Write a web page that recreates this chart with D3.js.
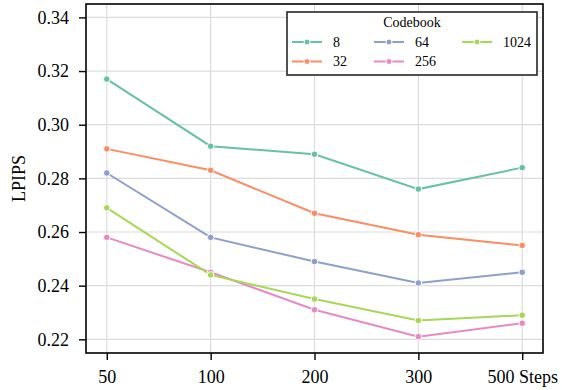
<!DOCTYPE html>
<html>
<head>
<meta charset="utf-8">
<script src="https://cdn.jsdelivr.net/npm/d3@7"></script>
<style>
html,body{margin:0;padding:0;background:#fff;}
svg{display:block;}
text{font-family:"Liberation Serif","Times New Roman",serif;fill:#000;}
</style>
</head>
<body>
<svg id="chart" width="562" height="390"></svg>
<script>
const steps = ["50", "100", "200", "300", "500 Steps"];
const seriesNames = ["8", "32", "64", "256", "1024"];
const values8    = [0.317, 0.292, 0.289, 0.276, 0.284];
const values32   = [0.291, 0.283, 0.267, 0.259, 0.255];
const values64   = [0.282, 0.258, 0.249, 0.241, 0.245];
const values256  = [0.258, 0.245, 0.231, 0.221, 0.226];
const values1024 = [0.269, 0.244, 0.235, 0.227, 0.229];
const colors = ["#66c2a5", "#fc8d62", "#8da0cb", "#e78ac3", "#a6d854"];
const yTicks = [0.22, 0.24, 0.26, 0.28, 0.30, 0.32, 0.34];
const legendTitle = "Codebook";
const yLabel = "LPIPS";

const series = [values8, values32, values64, values256, values1024].map((v, i) => ({
  name: seriesNames[i], color: colors[i], values: v
}));

const svg = d3.select("#chart");
const L = 86, R = 543, T = 4, B = 353;

const x = d3.scalePoint().domain(steps).range([L, R]).padding(0.2);
const y = d3.scaleLinear().domain([0.2149, 0.3450]).range([B, T]);

// grid
const g = svg.append("g");
g.selectAll("line.gy").data(yTicks).join("line")
  .attr("x1", L).attr("x2", R)
  .attr("y1", d => y(d)).attr("y2", d => y(d))
  .attr("stroke", "#dcdcdc").attr("stroke-width", 1.2);
g.selectAll("line.gx").data(steps).join("line")
  .attr("y1", T).attr("y2", B)
  .attr("x1", d => x(d)).attr("x2", d => x(d))
  .attr("stroke", "#dcdcdc").attr("stroke-width", 1.2);

// lines
const line = d3.line().x((d, i) => x(steps[i])).y(d => y(d));
series.forEach(s => {
  svg.append("path").datum(s.values)
    .attr("d", line).attr("fill", "none")
    .attr("stroke", s.color).attr("stroke-width", 2);
});
series.forEach(s => {
  svg.append("g").selectAll("circle").data(s.values).join("circle")
    .attr("cx", (d, i) => x(steps[i])).attr("cy", d => y(d))
    .attr("r", 3.3).attr("fill", s.color)
    .attr("stroke", "#fff").attr("stroke-width", 1);
});

// frame
svg.append("rect").attr("x", L).attr("y", T).attr("width", R - L).attr("height", B - T)
  .attr("fill", "none").attr("stroke", "#000").attr("stroke-width", 1.6);

// axes
const yAxis = svg.append("g").attr("transform", `translate(${L},0)`)
  .call(d3.axisLeft(y).tickValues(yTicks).tickFormat(d3.format(".2f")).tickSize(7).tickPadding(10));
const xAxis = svg.append("g").attr("transform", `translate(0,${B})`)
  .call(d3.axisBottom(x).tickSize(7).tickPadding(10));
[yAxis, xAxis].forEach(a => {
  a.select(".domain").remove();
  a.selectAll(".tick line").attr("stroke", "#000").attr("stroke-width", 1.4);
  a.selectAll(".tick text").attr("font-family", "Liberation Serif, serif").attr("font-size", 18).attr("fill", "#000");
});

svg.append("text").attr("transform", `translate(25,${(T + B) / 2}) rotate(-90)`)
  .attr("text-anchor", "middle").attr("font-size", 18).text(yLabel);

// legend
const lg = svg.append("g");
lg.append("rect").attr("x", 287).attr("y", 12).attr("width", 250).attr("height", 63)
  .attr("fill", "#fff").attr("stroke", "#333").attr("stroke-width", 1.7);
lg.append("text").attr("x", 412).attr("y", 27).attr("text-anchor", "middle")
  .attr("font-size", 14).text(legendTitle);
const colX = [292, 374, 462];
const rowY = [42, 61.5];
const order = [[0, 0, 0], [1, 0, 1], [2, 1, 0], [3, 1, 1], [4, 2, 0]];
order.forEach(([si, c, r]) => {
  const s = series[si];
  const lx = colX[c], ly = rowY[r];
  lg.append("line").attr("x1", lx).attr("x2", lx + 30).attr("y1", ly).attr("y2", ly)
    .attr("stroke", s.color).attr("stroke-width", 2);
  lg.append("circle").attr("cx", lx + 15).attr("cy", ly).attr("r", 3)
    .attr("fill", s.color).attr("stroke", "#fff").attr("stroke-width", 1);
  lg.append("text").attr("x", lx + 41).attr("y", ly + 4.8).attr("font-size", 14).text(s.name);
});
</script>
</body>
</html>
